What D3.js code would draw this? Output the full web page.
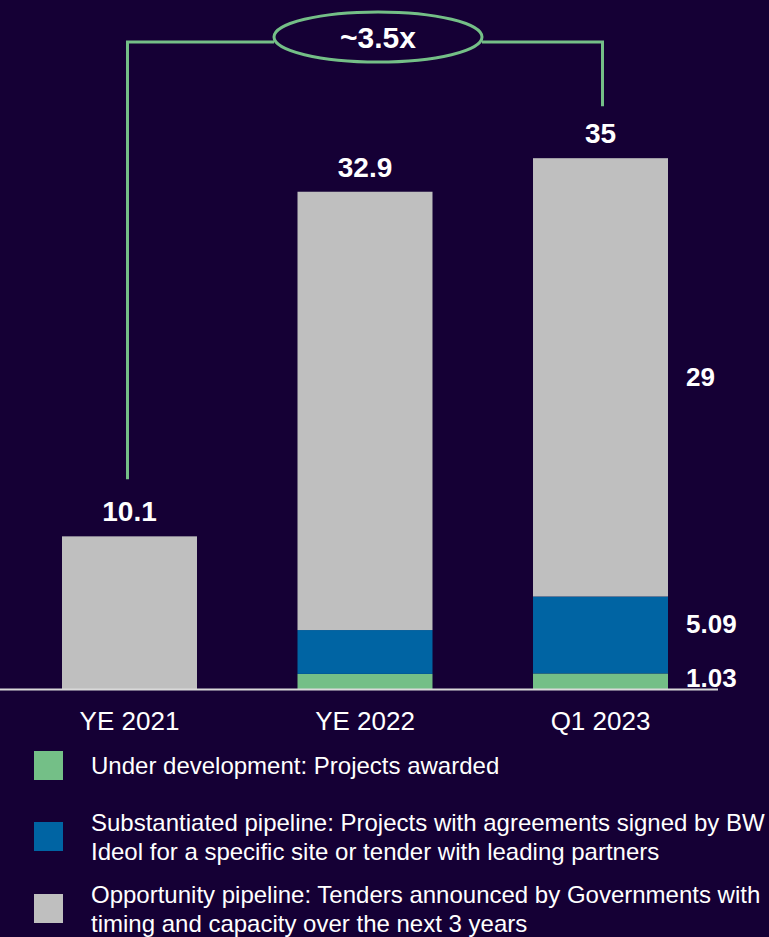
<!DOCTYPE html>
<html>
<head>
<meta charset="utf-8">
<script src="https://cdn.jsdelivr.net/npm/d3@7"></script>
<style>
  html, body { margin: 0; padding: 0; background: #150035; }
  svg { display: block; }
  text { font-family: "Liberation Sans", Arial, sans-serif; fill: #ffffff; }
</style>
</head>
<body>
<svg id="chart" width="769" height="937"></svg>
<script>
// Pipeline (GW) by period, stacked by maturity
const categories = ["YE 2021", "YE 2022", "Q1 2023"];
const seriesKeys = ["awarded", "substantiated", "opportunity"];
const awarded = [0, 1.0, 1.03];
const substantiated = [0, 2.9, 5.09];
const opportunity = [10.1, 29.0, 29];
const totalLabels = ["10.1", "32.9", "35"];
const seriesColors = ["#74bf87", "#0064a3", "#bfbfbf"];
const legendLabels = [
  ["Under development: Projects awarded"],
  ["Substantiated pipeline: Projects with agreements signed by BW", "Ideol for a specific site or tender with leading partners"],
  ["Opportunity pipeline: Tenders announced by Governments with", "timing and capacity over the next 3 years"]
];
const growthLabel = "~3.5x";

const svg = d3.select("#chart");
const baseY = 689;

const rows = categories.map((c, i) => ({
  cat: c,
  awarded: awarded[i],
  substantiated: substantiated[i],
  opportunity: opportunity[i]
}));
const totals = rows.map(r => r.awarded + r.substantiated + r.opportunity);

const x = d3.scaleBand().domain(categories).range([6, 724])
  .paddingInner(0.4268).paddingOuter(0.2378);
const y = d3.scaleLinear().domain([0, 35]).range([baseY, baseY - 529]);

const stack = d3.stack().keys(seriesKeys)(rows);

// stacked bars
svg.append("g").selectAll("g").data(stack).join("g")
  .attr("fill", (d, i) => seriesColors[i])
  .selectAll("rect").data(d => d).join("rect")
  .attr("x", d => x(d.data.cat))
  .attr("width", x.bandwidth())
  .attr("y", d => y(d[1]))
  .attr("height", d => Math.max(0, y(d[0]) - y(d[1])));

// baseline
svg.append("line")
  .attr("x1", 0).attr("x2", 718)
  .attr("y1", baseY + 0.5).attr("y2", baseY + 0.5)
  .attr("stroke", "#d9d9d9").attr("stroke-width", 2);

// category axis labels
const xAxis = d3.axisBottom(x).tickSize(0).tickPadding(0);
const ax = svg.append("g").attr("transform", `translate(0,${baseY})`).call(xAxis);
ax.select(".domain").remove();
ax.selectAll("text")
  .attr("y", 41).attr("dy", null)
  .style("font-size", "26px")
  .style("font-family", "'Liberation Sans', Arial, sans-serif")
  .attr("fill", "#ffffff");

// totals above bars
svg.append("g").selectAll("text").data(rows).join("text")
  .attr("x", d => x(d.cat) + x.bandwidth() / 2)
  .attr("y", (d, i) => y(totals[i]) - 15)
  .attr("text-anchor", "middle")
  .style("font-size", "28px").style("font-weight", "bold")
  .text((d, i) => totalLabels[i]);

// segment labels beside the last bar
const last = rows.length - 1;
const lx = x(categories[last]) + x.bandwidth() + 18;
const segLabels = [
  { v: opportunity[last], yPos: y(totals[last] - opportunity[last] / 2) + 9 },
  { v: substantiated[last], yPos: y(awarded[last] + substantiated[last] / 2) - 2 },
  { v: awarded[last], yPos: baseY - 2 }
];
svg.append("g").selectAll("text").data(segLabels).join("text")
  .attr("x", lx).attr("y", d => d.yPos)
  .style("font-size", "26px").style("font-weight", "bold")
  .text(d => String(d.v));

// growth bracket
const green = "#74bf87";
const bx0 = x(categories[0]) + x.bandwidth() / 2 - 2;
const bx1 = x(categories[last]) + x.bandwidth() / 2 + 2;
const by = 42;
const ecx = 378, ecy = 37, erx = 104, ery = 25;
const bracket = svg.append("g").attr("fill", "none").attr("stroke", green).attr("stroke-width", 3);
bracket.append("path")
  .attr("d", `M${bx0},${y(totals[0]) - 57} V${by} H${ecx - erx}`);
bracket.append("path")
  .attr("d", `M${ecx + erx},${by} H${bx1} V${y(totals[last]) - 52}`);
bracket.append("ellipse")
  .attr("cx", ecx).attr("cy", ecy).attr("rx", erx).attr("ry", ery)
  .attr("fill", "#150035");
svg.append("text")
  .attr("x", ecx).attr("y", 48)
  .attr("text-anchor", "middle")
  .style("font-size", "30px").style("font-weight", "bold")
  .text(growthLabel);

// legend
const legendTop = [751, 822, 894];
const legendBase = [774, 831, 903];
const lg = svg.append("g");
legendLabels.forEach((lines, i) => {
  lg.append("rect")
    .attr("x", 34).attr("y", legendTop[i]).attr("width", 29).attr("height", 29)
    .attr("fill", seriesColors[i]);
  const t = lg.append("text")
    .attr("x", 91)
    .attr("y", legendBase[i])
    .style("font-size", "24px");
  lines.forEach((ln, j) => {
    t.append("tspan").attr("x", 91).attr("dy", j === 0 ? 0 : 29).text(ln);
  });
});
</script>
</body>
</html>
